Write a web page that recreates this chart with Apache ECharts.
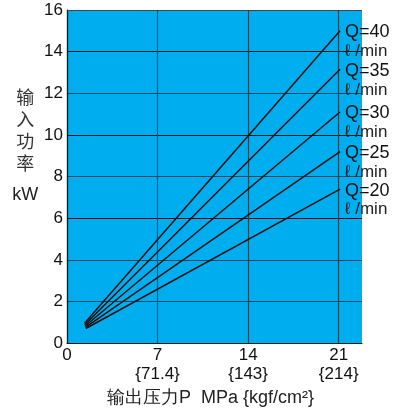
<!DOCTYPE html>
<html><head><meta charset="utf-8">
<script src="https://cdn.jsdelivr.net/npm/echarts@6/dist/echarts.min.js"></script>
<style>html,body{margin:0;padding:0;background:#fff}#c{width:403px;height:412px}</style>
</head><body><div id="c"></div>
<script>
const flowLabels = ['Q=40', 'Q=35', 'Q=30', 'Q=25', 'Q=20'];
const startX = [1.35, 1.37, 1.40, 1.42, 1.45];
const startY = [0.95, 0.88, 0.82, 0.76, 0.70];
const endX = [21.1, 21.1, 21.1, 21.1, 21.1];
const endY = [15.0, 13.15, 11.1, 9.2, 7.4];
const xTicks = [0, 7, 14, 21];
const xSubLabels = {7: '{71.4}', 14: '{143}', 21: '{214}'};
const yGridColors = ['#1c1c1c','#0d4a64','#0d4a64','#111','#0d4a64','#111','#0d4a64','#111','#444'];

const font = 'Liberation Sans, Arial, Helvetica, sans-serif';
const chart = echarts.init(document.getElementById('c'), null, {renderer: 'canvas'});
const series = flowLabels.map((name, i) => ({
  type: 'line', name,
  data: [[startX[i], startY[i]], [endX[i], endY[i]]],
  symbol: 'none', silent: true,
  lineStyle: {color: '#111', width: 1.5},
  endLabel: {
    show: true,
    formatter: () => '{q|' + name + '}\n{u|ℓ /min}',
    offset: [-3, 11],
    align: 'left', verticalAlign: 'middle',
    rich: {
      q: {fontSize: 18, fontFamily: font, color: '#111', lineHeight: 19},
      u: {fontSize: 17, fontFamily: font, color: '#222', lineHeight: 19}
    }
  }
}));
chart.setOption({
  animation: false,
  grid: {left: 67, top: 10, width: 295, height: 340, show: true, backgroundColor: '#00aeef', borderWidth: 0},
  xAxis: {
    type: 'value', min: 0, max: 22.8, interval: 7,
    axisLine: {show: true, lineStyle: {color: '#1a1a1a', width: 1.2}},
    axisTick: {show: false},
    splitLine: {show: true, showMaxLine: false, lineStyle: {color: '#0d4a64', width: 1.2}},
    axisLabel: {
      showMaxLabel: false, margin: 3,
      color: '#111', fontSize: 17, fontFamily: font, lineHeight: 19,
      formatter: v => xTicks.includes(v) ? (xSubLabels[v] ? v + '\n' + xSubLabels[v] : String(v)) : ''
    },
    name: '输出压力P  MPa {kgf/cm²}', nameLocation: 'middle', nameGap: 44,
    nameTextStyle: {color: '#222', fontSize: 18, fontFamily: font, padding: [0, 8, 0, 0]}
  },
  yAxis: {
    type: 'value', min: 0, max: 16, interval: 2,
    axisLine: {show: true, lineStyle: {color: '#1a1a1a', width: 1.2}},
    axisTick: {show: false},
    splitLine: {show: true, lineStyle: {color: yGridColors, width: 1.2}},
    axisLabel: {margin: 4, color: '#111', fontSize: 17, fontFamily: font},
    name: '{c|输}\n{c|入}\n{c|功}\n{c|率}\n{k|kW}',
    nameLocation: 'middle', nameRotate: 0, nameGap: 41,
    nameTextStyle: {
      align: 'center', verticalAlign: 'middle', padding: [0, 0, 52, 0],
      rich: {
        c: {fontSize: 18, fontFamily: 'Noto Sans CJK SC, sans-serif', color: '#333', lineHeight: 22},
        k: {fontSize: 18, fontFamily: font, color: '#222', lineHeight: 40}
      }
    }
  },
  series
});
</script></body></html>
